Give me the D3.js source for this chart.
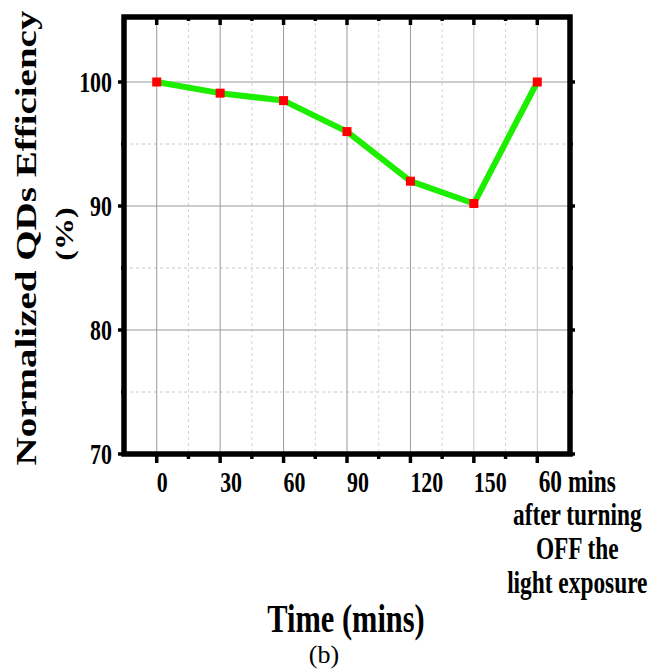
<!DOCTYPE html>
<html>
<head>
<meta charset="utf-8">
<script src="https://cdn.jsdelivr.net/npm/d3@7"></script>
<style>
  html, body { margin: 0; padding: 0; background: #fff; }
  svg { display: block; }
</style>
</head>
<body>
<div id="chart"></div>
<script>
// Data
const timeLabels = [
  ["0"], ["30"], ["60"], ["90"], ["120"], ["150"],
  ["60 mins", "after turning", "OFF the", "light exposure"]
];
const efficiency = [100, 99.1, 98.5, 96.0, 92.0, 90.2, 100];
const yTicks = [70, 80, 90, 100];
const yMinorTicks = [75, 85, 95];

// Layout
const width = 651, height = 672;
const plot = {left: 124, right: 570, top: 17, bottom: 454};
const squeeze = 0.78; // the bold labels in the figure are horizontally condensed
const tickSqueeze = 0.73;
const serif = "'Liberation Serif', 'Times New Roman', serif";

const idx = d3.range(timeLabels.length);
const x = d3.scaleLinear()
  .domain([-0.5, timeLabels.length - 0.5])
  .range([125, 569]);
const y = d3.scaleLinear()
  .domain([70, 105])
  .range([454, 20]);
const xMinor = idx.slice(0, -1).map(i => i + 0.5);

const svg = d3.select("#chart").append("svg")
  .attr("width", width)
  .attr("height", height)
  .attr("viewBox", [0, 0, width, height]);

// Grid
const grid = svg.append("g");
grid.selectAll("line.minorY")
  .data(yMinorTicks)
  .join("line")
    .attr("x1", plot.left).attr("x2", plot.right)
    .attr("y1", d => y(d)).attr("y2", d => y(d))
    .attr("stroke", "#c8c8c8")
    .attr("stroke-dasharray", "3,3");
grid.selectAll("line.minorX")
  .data(xMinor)
  .join("line")
    .attr("x1", d => x(d)).attr("x2", d => x(d))
    .attr("y1", plot.top).attr("y2", plot.bottom)
    .attr("stroke", "#d4d4d4")
    .attr("stroke-dasharray", "3,3");
grid.selectAll("line.majorY")
  .data(yTicks)
  .join("line")
    .attr("x1", plot.left).attr("x2", plot.right)
    .attr("y1", d => y(d)).attr("y2", d => y(d))
    .attr("stroke", "#9a9a9a");
grid.selectAll("line.majorX")
  .data(idx)
  .join("line")
    .attr("x1", d => x(d)).attr("x2", d => x(d))
    .attr("y1", plot.top).attr("y2", plot.bottom)
    .attr("stroke", d => d >= 5 ? "#c4c4c4" : "#9a9a9a");

// Tick marks on all four sides
const ticks = svg.append("g").attr("stroke", "#000").attr("stroke-width", 3.5);
const tickLine = (data, x1, x2, y1, y2) => ticks.append("g")
  .selectAll("line").data(data).join("line")
    .attr("x1", x1).attr("x2", x2).attr("y1", y1).attr("y2", y2);
// left (outward), right (outward)
tickLine(yTicks, plot.left - 6, plot.left, d => y(d), d => y(d));
tickLine(yMinorTicks, plot.left - 3, plot.left, d => y(d), d => y(d));
tickLine(yTicks, plot.right, plot.right + 5, d => y(d), d => y(d));
tickLine(yMinorTicks, plot.right, plot.right + 3, d => y(d), d => y(d));
// top (inward), bottom (outward)
tickLine(idx, d => x(d), d => x(d), plot.top, plot.top + 8);
tickLine(xMinor, d => x(d), d => x(d), plot.top, plot.top + 4);
tickLine(idx, d => x(d), d => x(d), plot.bottom, plot.bottom + 9);
tickLine(xMinor, d => x(d), d => x(d), plot.bottom, plot.bottom + 5);

// Frame
svg.append("rect")
  .attr("x", plot.left).attr("y", plot.top)
  .attr("width", plot.right - plot.left)
  .attr("height", plot.bottom - plot.top)
  .attr("fill", "none")
  .attr("stroke", "#000")
  .attr("stroke-width", 5.5);

// Series
const line = d3.line()
  .x((d, i) => x(i))
  .y(d => y(d));
svg.append("path")
  .datum(efficiency)
  .attr("fill", "none")
  .attr("stroke", "#1cee00")
  .attr("stroke-width", 6)
  .attr("stroke-linejoin", "round")
  .attr("d", line);
const m = 9;
svg.append("g")
  .selectAll("rect")
  .data(efficiency)
  .join("rect")
    .attr("x", (d, i) => x(i) - m / 2)
    .attr("y", d => y(d) - m / 2)
    .attr("width", m)
    .attr("height", m)
    .attr("fill", "#ff0000");

// Y tick labels
svg.append("g")
  .selectAll("text")
  .data(yTicks)
  .join("text")
    .attr("transform", d => `translate(112,${y(d)}) scale(${tickSqueeze},1)`)
    .attr("dy", "0.34em")
    .attr("text-anchor", "end")
    .attr("font-family", serif)
    .attr("font-weight", "bold")
    .attr("font-size", 30)
    .text(d => d);

// X tick labels
const xl = svg.append("g")
  .attr("font-family", serif)
  .attr("font-weight", "bold");
timeLabels.forEach((lines, i) => {
  if (lines.length === 1) {
    xl.append("text")
      .attr("transform", `translate(${x(i)},492) scale(${tickSqueeze},1)`)
      .attr("text-anchor", "start")
      .attr("font-size", 30)
      .text(lines[0]);
  } else {
    const baselines = [492, 525, 559, 593];
    lines.forEach((t, j) => {
      xl.append("text")
        .attr("transform", `translate(${x(i) + 40},${baselines[j]}) scale(${tickSqueeze},1)`)
        .attr("text-anchor", "middle")
        .attr("font-size", 32)
        .text(t);
    });
  }
});

// Axis titles
svg.append("text")
  .attr("transform", `translate(346,632) scale(${squeeze},1)`)
  .attr("text-anchor", "middle")
  .attr("font-family", serif)
  .attr("font-weight", "bold")
  .attr("font-size", 39)
  .text("Time (mins)");

svg.append("text")
  .attr("transform", `translate(36,238) rotate(-90) scale(1,${squeeze})`)
  .attr("text-anchor", "middle")
  .attr("font-family", serif)
  .attr("font-weight", "bold")
  .attr("font-size", 39)
  .text("Normalized QDs Efficiency");

svg.append("text")
  .attr("transform", `translate(73,234) rotate(-90) scale(1,${squeeze})`)
  .attr("text-anchor", "middle")
  .attr("font-family", serif)
  .attr("font-weight", "bold")
  .attr("font-size", 32)
  .text("(%)");

svg.append("text")
  .attr("x", 324)
  .attr("y", 663)
  .attr("text-anchor", "middle")
  .attr("font-family", serif)
  .attr("font-size", 26)
  .text("(b)");
</script>
</body>
</html>
